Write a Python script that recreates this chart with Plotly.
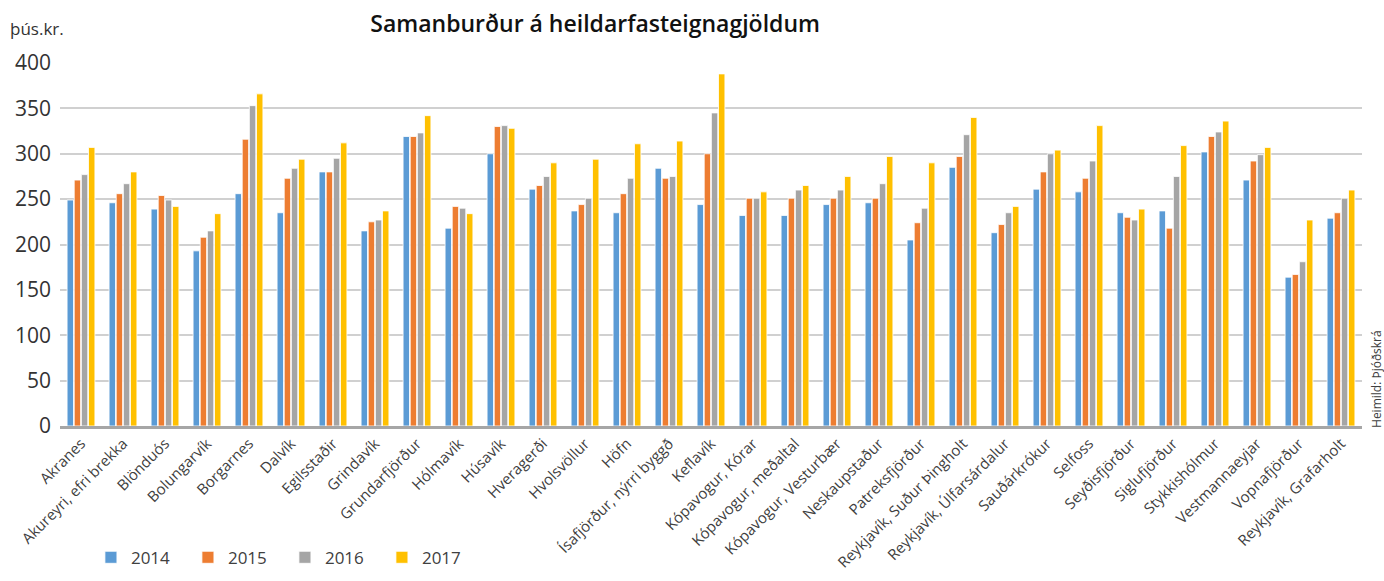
import plotly.graph_objects as go

categories = ["Akranes", "Akureyri, efri brekka", "Blönduós", "Bolungarvík", "Borgarnes",
              "Dalvík", "Egilsstaðir", "Grindavík", "Grundarfjörður", "Hólmavík", "Húsavík",
              "Hveragerði", "Hvolsvöllur", "Höfn", "Ísafjörður, nýrri byggð", "Keflavík",
              "Kópavogur, Kórar", "Kópavogur, meðaltal", "Kópavogur, Vesturbær", "Neskaupstaður",
              "Patreksfjörður", "Reykjavík, Suður Þingholt", "Reykjavík, Úlfarsárdalur",
              "Sauðárkrókur", "Selfoss", "Seyðisfjörður", "Siglufjörður", "Stykkishólmur",
              "Vestmannaeyjar", "Vopnafjörður", "Reykjavík, Grafarholt"]

v2014 = [249, 246, 239, 193, 256, 235, 280, 215, 319, 218, 300, 261, 237, 235, 284, 244,
         232, 232, 244, 246, 205, 285, 213, 261, 258, 235, 237, 302, 271, 164, 229]
v2015 = [271, 256, 254, 208, 316, 273, 280, 225, 319, 242, 330, 265, 244, 256, 273, 300,
         251, 251, 251, 251, 224, 297, 222, 280, 273, 230, 218, 319, 292, 167, 235]
v2016 = [277, 267, 249, 215, 353, 284, 295, 227, 323, 240, 331, 275, 251, 273, 275, 345,
         251, 260, 260, 267, 240, 321, 235, 300, 292, 227, 275, 324, 299, 181, 251]
v2017 = [307, 280, 242, 234, 366, 294, 312, 237, 342, 234, 328, 290, 294, 311, 314, 388,
         258, 265, 275, 297, 290, 340, 242, 304, 331, 239, 309, 336, 307, 227, 260]

series = [("2014", v2014, "#5B9BD5"), ("2015", v2015, "#ED7D31"),
          ("2016", v2016, "#A5A5A5"), ("2017", v2017, "#FFC000")]

fig = go.Figure()
for name, vals, col in series:
    fig.add_trace(go.Bar(x=categories, y=vals, name=name,
                         marker=dict(color=col, line=dict(color="white", width=0.8))))

font_family = "Open Sans"
fig.update_layout(
    width=1384, height=581,
    margin=dict(l=60, r=22, t=63, b=155, autoexpand=False),
    paper_bgcolor="white", plot_bgcolor="white",
    barmode="group", bargap=0.32, bargroupgap=0.1,
    font=dict(family=font_family, color="#404040"),
    showlegend=True,
    legend=dict(orientation="h", xref="container", yref="container",
                x=0.0657, y=0.04, xanchor="left", yanchor="middle",
                font=dict(size=17, color="#404040"),
                entrywidth=52, entrywidthmode="pixels", traceorder="normal"),
    title=dict(text="Samanburður á heildarfasteignagjöldum", xref="container", yref="container",
               x=0.43, y=0.958, xanchor="center", yanchor="middle",
               font=dict(size=23, color="#111111", family=font_family, weight=600)),
)
fig.update_xaxes(tickangle=-45, tickfont=dict(size=15, color="#404040"),
                 showline=True, linecolor="#A6A6A6", linewidth=3, ticks="",
                 showgrid=False, automargin=False)
fig.update_yaxes(range=[0, 400], dtick=50, showgrid=True, gridcolor="#D0D0D0", gridwidth=2,
                 zeroline=False, showline=False, ticks="", automargin=False,
                 ticklabelstandoff=8,
                 tickfont=dict(size=21, color="#333333"))

fig.add_annotation(text="þús.kr.", xref="paper", yref="paper", x=-0.04, y=1.096,
                   xanchor="left", yanchor="middle", showarrow=False,
                   font=dict(size=17, color="#333333"))
fig.add_annotation(text="Heimild: Þjóðskrá", xref="paper", yref="paper", x=1.0115, y=-0.011,
                   xanchor="center", yanchor="bottom", textangle=-90, showarrow=False,
                   font=dict(size=12, color="#404040"))

fig.write_html("out.html", config={"displayModeBar": False},
               post_script="document.body.style.margin='0';")
